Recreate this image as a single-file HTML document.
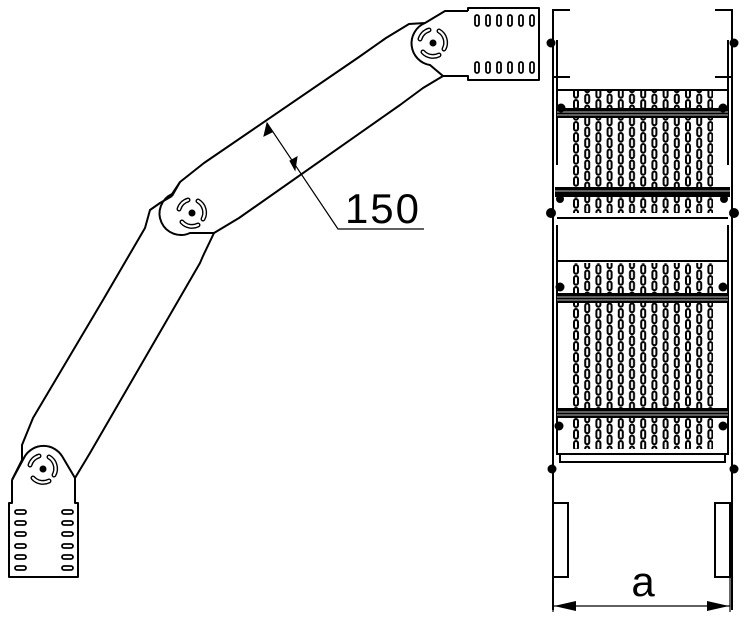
<!DOCTYPE html>
<html><head><style>html,body{margin:0;padding:0;background:#fff}svg{display:block}</style></head>
<body>
<svg width="746" height="622" viewBox="0 0 746 622" xmlns="http://www.w3.org/2000/svg">
<defs>
<pattern id="perf" patternUnits="userSpaceOnUse" x="573" y="0" width="22.4" height="11">
<rect x="1" y="1" width="4" height="8.8" rx="2" fill="#fff" stroke="#000" stroke-width="2"/>
<rect x="12.2" y="6.5" width="4" height="8.8" rx="2" fill="#fff" stroke="#000" stroke-width="2"/>
<rect x="12.2" y="-4.5" width="4" height="8.8" rx="2" fill="#fff" stroke="#000" stroke-width="2"/>
</pattern>
<g id="piv">
<path d="M -13 -4 A 13.5 13.5 0 0 1 -4 -13" fill="none" stroke="#000" stroke-width="5" stroke-linecap="round"/>
<path d="M -13 -4 A 13.5 13.5 0 0 1 -4 -13" fill="none" stroke="#fff" stroke-width="2.2" stroke-linecap="round"/>
<path d="M 6 -12 A 13.5 13.5 0 0 1 11 6" fill="none" stroke="#000" stroke-width="5" stroke-linecap="round"/>
<path d="M 6 -12 A 13.5 13.5 0 0 1 11 6" fill="none" stroke="#fff" stroke-width="2.2" stroke-linecap="round"/>
<path d="M 6 12 A 13.5 13.5 0 0 1 -10 9" fill="none" stroke="#000" stroke-width="5" stroke-linecap="round"/>
<path d="M 6 12 A 13.5 13.5 0 0 1 -10 9" fill="none" stroke="#fff" stroke-width="2.2" stroke-linecap="round"/>
<circle r="3.5" fill="#000"/>
</g>
<g id="vs"><rect x="0" y="0" width="4" height="11" rx="2" fill="#fff" stroke="#000" stroke-width="1.8"/></g>
<g id="hs"><rect x="0" y="0" width="11" height="4" rx="2" fill="#fff" stroke="#000" stroke-width="1.8"/></g>
</defs>
<g fill="none" stroke="#000" stroke-width="2" stroke-linejoin="round">
<path d="M468 11 L468 8 L539 8 L539 80 L468 80 L468 76 L443 76"/>
<path d="M468 11 L445 11 L425 23 L409 24 L386 38 L359 57 L204 163 L180 182 L172 196"/>
<path d="M443 76 L423 88 L400 105 L239 218 L214 233"/>
<path d="M425 23 A22 22 0 0 0 430 65 L443 76" />
<path d="M180 182 L172 194 A19 19 0 0 0 190 233 L214 233"/>
<path d="M172 196 L160 203 L150 210 L145 228 L103 300 L33 418 L22 445 L22 460 L12 480"/>
<path d="M214 233 L203 256 L200 263 L90 453 L75 478"/>
<path d="M12 480 L12 503 L9 503 L9 577 L78 577 L78 503 L75 503 L75 478 L62 456 A22 22 0 0 0 25 456 L12 480"/>
</g>
<use href="#piv" x="433" y="43"/>
<use href="#piv" x="192" y="213"/>
<use href="#piv" x="43" y="469"/>
<g>
<use href="#vs" x="475" y="15"/><use href="#vs" x="486" y="15"/><use href="#vs" x="497" y="15"/><use href="#vs" x="508" y="15"/><use href="#vs" x="519" y="15"/><use href="#vs" x="530" y="15"/>
<use href="#vs" x="475" y="62"/><use href="#vs" x="486" y="62"/><use href="#vs" x="497" y="62"/><use href="#vs" x="508" y="62"/><use href="#vs" x="519" y="62"/><use href="#vs" x="530" y="62"/>
<use href="#hs" x="15" y="510"/><use href="#hs" x="15" y="521"/><use href="#hs" x="15" y="532"/><use href="#hs" x="15" y="544"/><use href="#hs" x="15" y="555"/><use href="#hs" x="15" y="566"/>
<use href="#hs" x="62" y="510"/><use href="#hs" x="62" y="521"/><use href="#hs" x="62" y="532"/><use href="#hs" x="62" y="544"/><use href="#hs" x="62" y="555"/><use href="#hs" x="62" y="566"/>
</g>
<g stroke="#000" stroke-width="1.2" fill="none">
<path d="M267 123 L338 229 L424 229"/>
</g>
<path d="M267 123 L264 136 L272 132 Z M295 170 L297 157 L290 161 Z" fill="#000" stroke="#000"/>
<text x="383" y="223" font-family="Liberation Sans, sans-serif" font-size="42" text-anchor="middle" letter-spacing="2">150</text>

<g fill="url(#perf)">
<rect x="573" y="91" width="140" height="17"/>
<rect x="573" y="118" width="140" height="70"/>
<rect x="573" y="197" width="140" height="16"/>
<rect x="573" y="263" width="140" height="31"/>
<rect x="573" y="303" width="140" height="106"/>
<rect x="573" y="418" width="140" height="31"/>
</g>
<g fill="none" stroke="#000" stroke-width="2">
<path d="M570 10 L553 10 L553 40 M553 77 L570 77"/>
<path d="M715 10 L732 10 L732 40 M732 77 L715 77"/>
<path d="M553 40 L553 610 M557 40 L557 165 M557 225 L557 455 M553 470 L553 503"/>
<path d="M732 40 L732 610 M728 40 L728 165 M728 225 L728 455"/>
<path d="M557 90 L728 90"/>
<path d="M557 218 L728 218"/>
<path d="M557 261 L728 261"/>
<path d="M557 454 L728 454 M560 454 L560 462 L725 462 L725 454"/>
<rect x="553" y="503" width="15" height="74"/>
<rect x="715" y="503" width="15" height="74"/>
</g>
<g fill="#000">
<rect x="557" y="108" width="171" height="10"/>
<rect x="555" y="187" width="175" height="10"/>
<rect x="557" y="293" width="171" height="10"/>
<rect x="557" y="408" width="171" height="10"/>
</g>
<g stroke="#fff" stroke-width="0.8">
<path d="M557 112 L728 112 M557 115 L728 115 M555 191 L730 191 M557 297 L728 297 M557 300 L728 300 M557 412 L728 412 M557 415 L728 415"/>
</g>
<g fill="#000">
<circle cx="551" cy="43" r="4.5"/><circle cx="734" cy="43" r="4.5"/>
<circle cx="561" cy="108" r="4.5"/><circle cx="723" cy="108" r="4.5"/>
<circle cx="560" cy="199" r="4"/><circle cx="724" cy="199" r="4"/>
<circle cx="551" cy="213" r="5"/><circle cx="734" cy="213" r="5"/>
<circle cx="560" cy="287" r="4.5"/><circle cx="723" cy="287" r="4.5"/>
<circle cx="559" cy="426" r="4.5"/><circle cx="723" cy="426" r="4.5"/>
<circle cx="552" cy="469" r="4.5"/><circle cx="734" cy="469" r="4.5"/>
</g>
<g stroke="#000" stroke-width="1.2" fill="none">
<path d="M553 577 L553 612 M730 577 L730 612 M553 606 L730 606"/>
</g>
<path d="M554 606 L576 601 L576 611 Z M729 606 L707 601 L707 611 Z" fill="#000"/>
<text x="643" y="596" font-family="Liberation Sans, sans-serif" font-size="42" text-anchor="middle">a</text>
</svg>
</body></html>
